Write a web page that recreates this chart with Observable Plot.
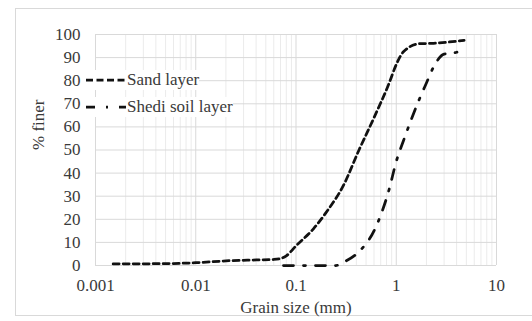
<!DOCTYPE html>
<html><head><meta charset="utf-8">
<script src="https://cdn.jsdelivr.net/npm/d3@7"></script>
<script src="https://cdn.jsdelivr.net/npm/@observablehq/plot@0.6"></script>
<style>
body{margin:0;background:#fff;}
#wrap{position:relative;width:532px;height:321px;overflow:hidden;font-family:"Liberation Serif";color:#3a3a3a;}
#frame{position:absolute;left:15px;top:8px;width:530px;height:308px;border:1px solid #d9d9d9;box-sizing:border-box;}
#chart{position:absolute;left:0;top:0;}
.lg{position:absolute;background:#fff;font-family:"Liberation Serif";font-size:17px;line-height:20px;white-space:nowrap;display:flex;align-items:center;color:#3a3a3a;}
.lg svg{display:block;margin-right:1px;}
</style>
</head><body>
<div id="wrap">
  <div id="frame"></div>
  <div id="chart"></div>
</div>
<script>
// Data
const sandSize  = [0.0015, 0.005, 0.01, 0.02, 0.04, 0.06, 0.07, 0.08, 0.1, 0.15, 0.2, 0.3, 0.425, 0.6, 0.85, 1.0, 1.18, 1.7, 2.36, 4.75];
const sandFiner = [0.7, 0.8, 1.2, 2.0, 2.4, 2.6, 3.0, 4.2, 8.5, 16, 23, 35, 50, 64, 79, 87, 92.5, 96, 96.2, 97.5];
const shediSize  = [0.075, 0.15, 0.25, 0.3, 0.425, 0.6, 0.85, 1.0, 1.18, 1.7, 2.0, 2.36, 3.0, 4.0, 4.75];
const shediFiner = [0, 0, 0, 1.5, 6, 15, 33, 45, 54, 72, 79, 86, 91.5, 92.3, 94.5];
const xTicks = [0.001, 0.01, 0.1, 1, 10];
const yTicks = [0, 10, 20, 30, 40, 50, 60, 70, 80, 90, 100];
const seriesNames = ["Sand layer", "Shedi soil layer"];
const xLabel = "Grain size (mm)";
const yLabel = "% finer";

const sand = sandSize.map((d, i) => ({size: d, finer: sandFiner[i]}));
const shedi = shediSize.map((d, i) => ({size: d, finer: shediFiner[i]}));
const minorTicks = d3.scaleLog().domain([0.001, 10]).ticks().filter(t => !xTicks.some(m => Math.abs(m - t) / m < 1e-9));

const font = "Liberation Serif";
const txt = "#3a3a3a";
const chart = Plot.plot({
  width: 532, height: 321,
  marginLeft: 95, marginRight: 36, marginTop: 34, marginBottom: 56,
  style: {background: "transparent", fontFamily: font, fontSize: "17px", color: txt},
  x: {type: "log", domain: [0.001, 10]},
  y: {domain: [0, 100]},
  marks: [
    Plot.ruleX(minorTicks, {stroke: "#ebebeb", strokeWidth: 1, strokeOpacity: 1}),
    Plot.ruleX(xTicks, {stroke: "#d9d9d9", strokeWidth: 1, strokeOpacity: 1}),
    Plot.ruleY(yTicks, {stroke: "#d9d9d9", strokeWidth: 1, strokeOpacity: 1}),
    Plot.axisX({ticks: xTicks, tickSize: 0, tickPadding: 13, tickFormat: d => String(d), label: null, fontSize: 17, fontFamily: font, fill: txt}),
    Plot.axisY({ticks: yTicks, tickSize: 0, tickPadding: 15, label: null, fontSize: 17, fontFamily: font, fill: txt}),
    Plot.line(sand, {x: "size", y: "finer", stroke: "#111", strokeWidth: 2.75, strokeDasharray: "6,4", curve: "monotone-x"}),
    Plot.line(shedi, {x: "size", y: "finer", stroke: "#111", strokeWidth: 2.75, strokeDasharray: "10,10,2,10", curve: "monotone-x"}),
    Plot.text([xLabel], {frameAnchor: "bottom", dy: 47, text: d => d, fontSize: 17, fontFamily: font, fill: txt}),
    Plot.text([yLabel], {frameAnchor: "left", dx: -57, rotate: -90, text: d => d, fontSize: 17, fontFamily: font, fill: txt})
  ]
});
document.getElementById("chart").append(chart);

// Legend (inside plot, top-left)
const wrap = document.getElementById("wrap");
const legendRows = [
  {name: seriesNames[0], dash: "7,3.5", top: 70},
  {name: seriesNames[1], dash: "9,11,2,11", top: 97}
];
legendRows.forEach(r => {
  const div = document.createElement("div");
  div.className = "lg";
  div.style.left = "86px";
  div.style.top = r.top + "px";
  div.innerHTML = `<svg width="40" height="20"><line x1="0" y1="10" x2="40" y2="10" stroke="#111" stroke-width="2.75" stroke-dasharray="${r.dash}"/></svg><span>${r.name}</span>`;
  wrap.append(div);
});
</script>
</body></html>
